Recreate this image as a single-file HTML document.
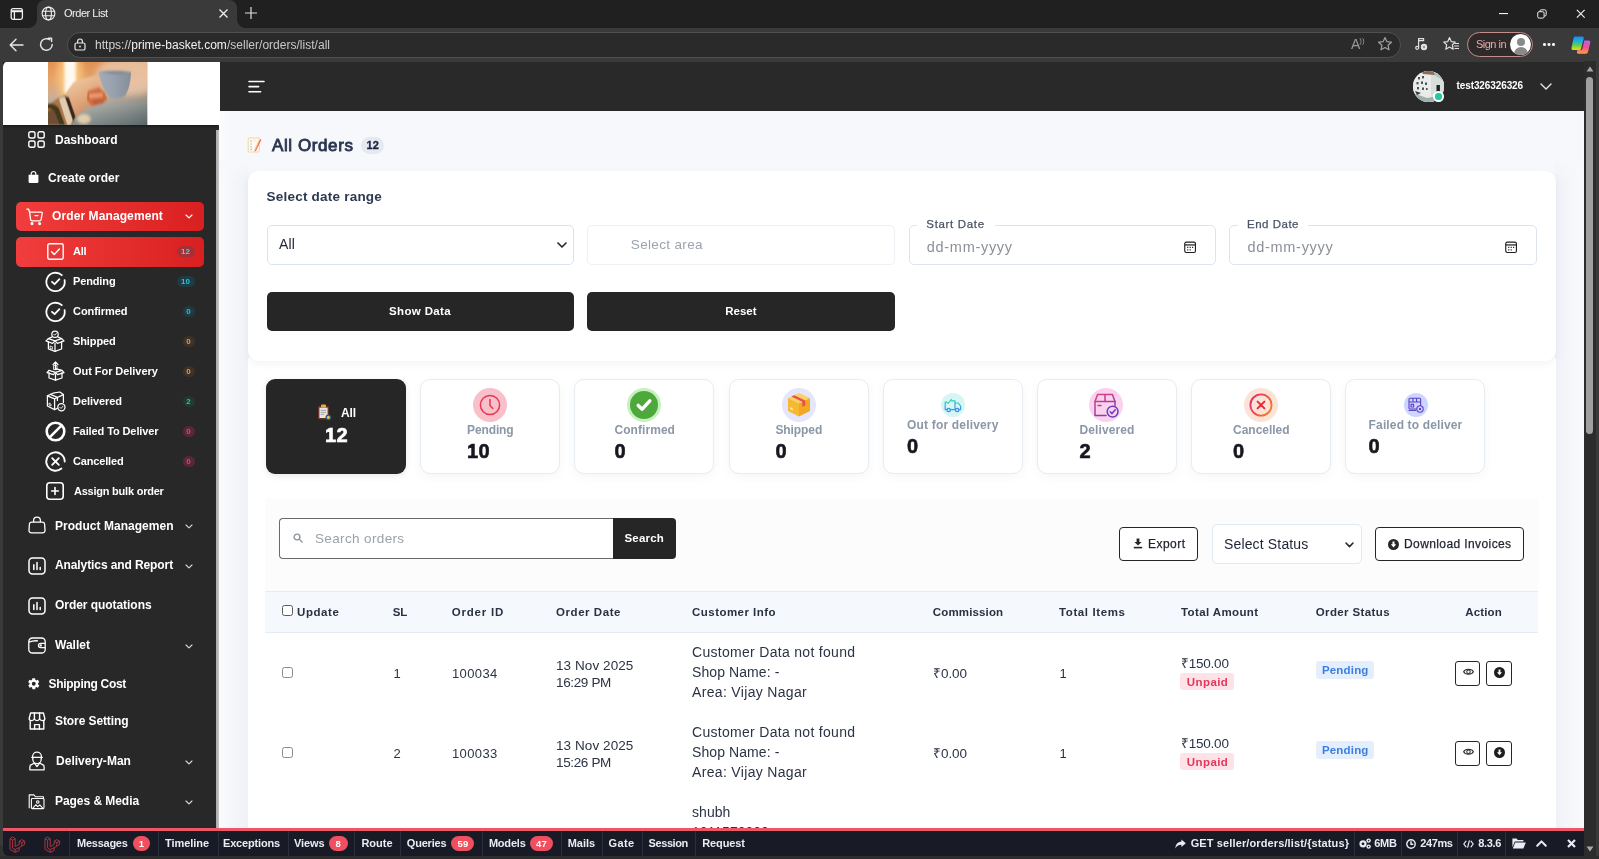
<!DOCTYPE html>
<html lang="en">
<head>
<meta charset="utf-8">
<title>Order List</title>
<style>
*{box-sizing:border-box;margin:0;padding:0}
html,body{width:1599px;height:859px;overflow:hidden;background:#f9fafc;font-family:"Liberation Sans",sans-serif;color:#2b3445}
.abs{position:absolute}
#root{position:relative;width:1599px;height:859px;overflow:hidden;will-change:transform}
svg{display:block;overflow:visible}
.fld{border:1px solid #dde4ee;border-radius:5px;background:#fff}
.btn{background:#262626;border-radius:5px}
.sc{background:#fff;border:1px solid #e7ecf2;border-radius:10px;box-shadow:0 3px 8px rgba(90,100,120,.06)}
.obtn{border:1px solid #262626;border-radius:4px;background:#fff}
.sep{width:1px;height:24.500px;top:831px;background:#2a2f3d}
.pill{top:836px;height:15px;border-radius:8px;background:#ef4f5f;color:#fff;font-size:9.5px;font-weight:bold;text-align:center;line-height:15px}
.nb{height:11px;border-radius:5.500px;font-size:8px;font-weight:bold;text-align:center;line-height:11.500px}
</style>
</head>
<body>
<div id="root">

<!-- CONTENT BG -->
<div class="abs" style="left:219px;top:110px;width:1364px;height:720px;background:#f7f8fb"></div>
<div class="abs" style="left:218.800px;top:110px;width:9px;height:62px;background:linear-gradient(90deg,#fcfcfe,#f7f8fb)"></div>
<div class="abs" style="left:218.800px;top:160px;width:30px;height:670px;background:linear-gradient(90deg,#fbfbfd,#f5f6fa 45%,#eff1f7)"></div>
<div class="abs" style="left:218.800px;top:160px;width:30px;height:24px;background:linear-gradient(#f7f8fb,rgba(247,248,251,0))"></div>
<div class="abs" style="left:1555px;top:160px;width:28.500px;height:670px;background:linear-gradient(90deg,#eff1f7,#f5f6fa 50%,#fafafc)"></div>
<div class="abs" style="left:1555px;top:160px;width:28.500px;height:24px;background:linear-gradient(#f7f8fb,rgba(247,248,251,0))"></div>
<div class="abs" style="left:248px;top:358px;width:1308px;height:483px;background:#fff"></div>
<!-- HEADER -->
<div class="abs" style="left:219px;top:61px;width:1365px;height:49.500px;background:#292929"></div>
<svg class="abs" style="left:248px;top:78px" width="18" height="16" viewBox="0 0 18 16" stroke="#fff" stroke-width="1.600" stroke-linecap="round"><path d="M1 3.500H16M1 8.600H10.600M1 13.700H12.600"/></svg>
<!-- avatar -->
<div class="abs" style="left:1413px;top:70.500px;width:31px;height:31px;border-radius:50%;overflow:hidden;background:#dfe5e2">
<svg width="31" height="31" viewBox="0 0 31 31"><rect width="31" height="31" fill="#e9ecea"/><path d="M18 0H31V31H18Z" fill="#a9c4c4"/><path d="M18 2L31 10V31H18Z" fill="#d8dedc"/><path d="M8 0H20L22 4L10 3Z" fill="#8a6a58"/><g fill="#4a5351"><rect x="5" y="6" width="2" height="2.400"/><rect x="9" y="5" width="2" height="2.400"/><rect x="3.500" y="11" width="2" height="2.400"/><rect x="8" y="10.500" width="2" height="2.400"/><rect x="12" y="11.500" width="2" height="2.400"/><rect x="4" y="16" width="2" height="2.400"/><rect x="9" y="16.500" width="2" height="2.400"/><rect x="13" y="17" width="1.600" height="2"/></g><rect x="23.500" y="14" width="3.400" height="8" fill="#1f2423"/><path d="M0 22L14 27L31 24V31H0Z" fill="#9fb0a8"/><path d="M2 20L8 22L4 24Z" fill="#2f3a36"/></svg></div>
<div class="abs" style="left:1433.300px;top:91.300px;width:10.400px;height:10.400px;border-radius:50%;background:#1fc9a4;border:2px solid #fff"></div>
<div class="abs" style="left:1456.5px;top:81.1px;font-size:10px;line-height:1;font-weight:bold;color:#fff;white-space:pre;letter-spacing:-0.10px;">test326326326</div>
<svg class="abs" style="left:1539.500px;top:82.500px" width="12" height="7" viewBox="0 0 12 7" fill="none" stroke="#e8e8e8" stroke-width="1.400" stroke-linecap="round" stroke-linejoin="round"><path d="M1 1L6 6L11 1"/></svg>
<!-- TITLE -->
<svg class="abs" style="left:246.500px;top:137px" width="15" height="16" viewBox="0 0 15 16"><rect x="1.200" y="1" width="11" height="14" rx="1" fill="#fffaf1" stroke="#f2cf9f" stroke-width="0.900"/><path d="M3.400 4.200H4.800M3.400 7H4.800M3.400 9.800H4.800M3.400 12.400H4.800" stroke="#7fd0b0" stroke-width="1.200"/><path d="M6 3.400H9" stroke="#dfe3ea" stroke-width="0.800"/><path d="M13.200 2L8.200 12.800L7.600 14.800L9.200 13.600L14.400 2.800Z" fill="#f0705a"/><path d="M12.200 3.600L7.400 13.400" stroke="#f6b36a" stroke-width="0.800"/></svg>
<div class="abs" style="left:272.0px;top:136.6px;font-size:17px;line-height:1;font-weight:normal;color:#2b3750;white-space:pre;letter-spacing:0.59px;-webkit-text-stroke:.85px #2b3750;">All Orders</div>
<div class="abs" style="left:361.300px;top:137px;width:23px;height:17.400px;border-radius:8.700px;background:#e5e9f2"></div>
<div class="abs" style="left:366.6px;top:140.2px;font-size:11px;line-height:1;font-weight:bold;color:#1b2540;white-space:pre;-webkit-text-stroke:.3px #1b2540;">12</div>
<!-- FILTER CARD -->
<div class="abs" style="left:248px;top:171px;width:1308px;height:189.500px;background:#fff;border-radius:11px;box-shadow:0 3px 7px rgba(80,95,140,.07)"></div>
<div class="abs" style="left:266.5px;top:190.2px;font-size:13.5px;line-height:1;font-weight:bold;color:#2c3950;white-space:pre;letter-spacing:0.22px;">Select date range</div>
<div class="abs fld" style="left:266.500px;top:225px;width:307px;height:39.500px;border-color:#dbe3ec"></div>
<div class="abs" style="left:279.0px;top:237.0px;font-size:14px;line-height:1;font-weight:normal;color:#1f2433;white-space:pre;letter-spacing:0.15px;">All</div>
<svg class="abs" style="left:557px;top:242px" width="10" height="6" viewBox="0 0 10 6" fill="none" stroke="#2b2b2b" stroke-width="1.700" stroke-linecap="round" stroke-linejoin="round"><path d="M1 1L5 5L9 1"/></svg>
<div class="abs fld" style="left:587px;top:225px;width:308px;height:39.500px;border-color:#edf0f5"></div>
<div class="abs" style="left:630.8px;top:238.4px;font-size:13.5px;line-height:1;font-weight:normal;color:#9ba3ae;white-space:pre;letter-spacing:0.34px;">Select area</div>
<div class="abs fld" style="left:908.500px;top:225px;width:307px;height:39.500px"></div>
<div class="abs" style="left:917px;top:222px;width:78px;height:6px;background:#fff"></div>
<div class="abs" style="left:926.3px;top:218.7px;font-size:11.5px;line-height:1;font-weight:normal;color:#4a5465;white-space:pre;letter-spacing:0.67px;-webkit-text-stroke:.25px #4a5465;">Start Date</div><div class="abs" style="left:926.8px;top:239.5px;font-size:14.5px;line-height:1;font-weight:normal;color:#8b9098;white-space:pre;letter-spacing:0.70px;">dd-mm-yyyy</div>
<div class="abs fld" style="left:1229px;top:225px;width:307.500px;height:39.500px"></div>
<div class="abs" style="left:1238px;top:222px;width:70px;height:6px;background:#fff"></div>
<div class="abs" style="left:1247.0px;top:218.7px;font-size:11.5px;line-height:1;font-weight:normal;color:#4a5465;white-space:pre;letter-spacing:0.51px;-webkit-text-stroke:.25px #4a5465;">End Date</div><div class="abs" style="left:1247.5px;top:239.5px;font-size:14.5px;line-height:1;font-weight:normal;color:#8b9098;white-space:pre;letter-spacing:0.70px;">dd-mm-yyyy</div><svg class="abs" style="left:1184px;top:241px" width="12.200" height="12.200" viewBox="0 0 13 13" fill="none" stroke="#1f1f1f" stroke-width="1.200"><rect x="0.800" y="1.200" width="11.400" height="11" rx="1.600"/><path d="M0.800 4.200H12.200" stroke-width="1.300"/><path d="M3.400 6.800H4.600M6 6.800H7.200M8.600 6.800H9.800M3.400 9.400H4.600M6 9.400H7.200" stroke-width="1.300"/></svg><svg class="abs" style="left:1504.8px;top:241px" width="12.200" height="12.200" viewBox="0 0 13 13" fill="none" stroke="#1f1f1f" stroke-width="1.200"><rect x="0.800" y="1.200" width="11.400" height="11" rx="1.600"/><path d="M0.800 4.200H12.200" stroke-width="1.300"/><path d="M3.400 6.800H4.600M6 6.800H7.200M8.600 6.800H9.800M3.400 9.400H4.600M6 9.400H7.200" stroke-width="1.300"/></svg>
<div class="abs btn" style="left:266.500px;top:291.500px;width:307px;height:39.500px"></div>
<div class="abs" style="left:389.0px;top:305.7px;font-size:11.5px;line-height:1;font-weight:bold;color:#fff;white-space:pre;letter-spacing:0.36px;">Show Data</div>
<div class="abs btn" style="left:587px;top:291.500px;width:308px;height:39.500px"></div>
<div class="abs" style="left:725.2px;top:305.7px;font-size:11.5px;line-height:1;font-weight:bold;color:#fff;white-space:pre;letter-spacing:0.03px;">Reset</div>
<!-- STAT CARDS -->
<div class="abs" style="left:266px;top:379px;width:140px;height:95px;border-radius:9px;background:#262626;box-shadow:0 2px 6px rgba(40,40,60,.10)"></div>
<svg class="abs" style="left:316.500px;top:404px" width="15" height="17" viewBox="0 0 15 17"><rect x="1" y="2" width="11" height="13.400" rx="1.200" fill="#6a3228"/><rect x="2.400" y="3.600" width="8.200" height="10.400" fill="#e9e6e2"/><rect x="4" y="0.600" width="5" height="3" rx="1" fill="#e2b33c"/><path d="M3.600 6.400H9.200M3.600 8.400H9.200M3.600 10.400H7.400" stroke="#9aa0a8" stroke-width="0.900"/><circle cx="11.400" cy="13.400" r="2.900" fill="#24566a"/><circle cx="11.400" cy="13.400" r="1.600" fill="#e6c24a"/></svg>
<div class="abs" style="left:341.0px;top:406.9px;font-size:12px;line-height:1;font-weight:bold;color:#fff;white-space:pre;letter-spacing:-0.11px;">All</div><div class="abs" style="left:325.0px;top:425.2px;font-size:20px;line-height:1;font-weight:bold;color:#fff;white-space:pre;letter-spacing:0.38px;-webkit-text-stroke:.6px #fff;">12</div><div class="abs sc" style="left:420.2px;top:379px;width:140px;height:95px"></div><div class="abs" style="left:467.0px;top:423.7px;font-size:12px;line-height:1;font-weight:bold;color:#8b97a6;white-space:pre;letter-spacing:-0.11px;">Pending</div><div class="abs" style="left:467.0px;top:441.2px;font-size:20px;line-height:1;font-weight:bold;color:#17171f;white-space:pre;letter-spacing:0.38px;-webkit-text-stroke:.6px #17171f;">10</div><div class="abs sc" style="left:574.4px;top:379px;width:140px;height:95px"></div><div class="abs" style="left:614.4px;top:423.7px;font-size:12px;line-height:1;font-weight:bold;color:#8b97a6;white-space:pre;letter-spacing:0.07px;">Confirmed</div><div class="abs" style="left:614.4px;top:441.2px;font-size:20px;line-height:1;font-weight:bold;color:#17171f;white-space:pre;letter-spacing:1.07px;-webkit-text-stroke:.6px #17171f;">0</div><div class="abs sc" style="left:728.6px;top:379px;width:140px;height:95px"></div><div class="abs" style="left:775.4px;top:423.7px;font-size:12px;line-height:1;font-weight:bold;color:#8b97a6;white-space:pre;letter-spacing:-0.08px;">Shipped</div><div class="abs" style="left:775.4px;top:441.2px;font-size:20px;line-height:1;font-weight:bold;color:#17171f;white-space:pre;letter-spacing:1.07px;-webkit-text-stroke:.6px #17171f;">0</div><div class="abs sc" style="left:882.8px;top:379px;width:140px;height:95px"></div><div class="abs" style="left:907.0px;top:418.9px;font-size:12px;line-height:1;font-weight:bold;color:#8b97a6;white-space:pre;letter-spacing:0.18px;">Out for delivery</div><div class="abs" style="left:907.0px;top:436.2px;font-size:20px;line-height:1;font-weight:bold;color:#17171f;white-space:pre;letter-spacing:1.07px;-webkit-text-stroke:.6px #17171f;">0</div><div class="abs sc" style="left:1037px;top:379px;width:140px;height:95px"></div><div class="abs" style="left:1079.6px;top:423.7px;font-size:12px;line-height:1;font-weight:bold;color:#8b97a6;white-space:pre;letter-spacing:0.09px;">Delivered</div><div class="abs" style="left:1079.6px;top:441.2px;font-size:20px;line-height:1;font-weight:bold;color:#17171f;white-space:pre;letter-spacing:1.07px;-webkit-text-stroke:.6px #17171f;">2</div><div class="abs sc" style="left:1191.2px;top:379px;width:140px;height:95px"></div><div class="abs" style="left:1233.0px;top:423.7px;font-size:12px;line-height:1;font-weight:bold;color:#8b97a6;white-space:pre;letter-spacing:-0.01px;">Cancelled</div><div class="abs" style="left:1233.0px;top:441.2px;font-size:20px;line-height:1;font-weight:bold;color:#17171f;white-space:pre;letter-spacing:1.07px;-webkit-text-stroke:.6px #17171f;">0</div><div class="abs sc" style="left:1345.4px;top:379px;width:140px;height:95px"></div><div class="abs" style="left:1368.6px;top:418.9px;font-size:12px;line-height:1;font-weight:bold;color:#8b97a6;white-space:pre;letter-spacing:0.14px;">Failed to deliver</div><div class="abs" style="left:1368.6px;top:436.2px;font-size:20px;line-height:1;font-weight:bold;color:#17171f;white-space:pre;letter-spacing:1.07px;-webkit-text-stroke:.6px #17171f;">0</div>
<div class="abs" style="left:473.400px;top:388px;width:34px;height:34px;border-radius:50%;background:#f9bfca"></div>
<svg class="abs" style="left:479.400px;top:394px" width="22" height="22" viewBox="0 0 22 22" fill="none" stroke="#e23a55" stroke-width="1.500" stroke-linecap="round"><circle cx="11" cy="11" r="9.600"/><path d="M11 5.400V11.400L13.800 14.400"/></svg>
<div class="abs" style="left:627.400px;top:388px;width:34px;height:34px;border-radius:50%;background:#c5f1bc"></div>
<div class="abs" style="left:630.400px;top:391px;width:28px;height:28px;border-radius:50%;background:#4fa83c"></div>
<svg class="abs" style="left:635.400px;top:397px" width="18" height="16" viewBox="0 0 18 16" fill="none" stroke="#fff" stroke-width="3.400" stroke-linecap="round" stroke-linejoin="round"><path d="M3.200 8.400L7.200 12.200L14.800 3.800"/></svg>
<div class="abs" style="left:781.600px;top:388px;width:34px;height:34px;border-radius:50%;background:#e4e7fb"></div>
<svg class="abs" style="left:785.600px;top:391px" width="26" height="28" viewBox="0 0 26 28"><path d="M13 2L24 7L13 12.500L2 7Z" fill="#fcd062"/><path d="M2 7L13 12.500V25.500L2 20Z" fill="#f7b92f"/><path d="M24 7L13 12.500V25.500L24 20Z" fill="#f5a623"/><path d="M8.200 4.200L19.200 9.400V14.400L16.400 15.800V10.800L5.400 5.500Z" fill="#e0524a"/><rect x="4" y="17" width="3" height="2" fill="#fde9b0" transform="skewY(26) translate(0,-3)"/></svg>
<div class="abs" style="left:940.600px;top:393.400px;width:24px;height:24px;border-radius:50%;background:#d6f6f6"></div>
<svg class="abs" style="left:944px;top:398px" width="18" height="15" viewBox="0 0 18 15" fill="none" stroke-width="1.200" stroke-linejoin="round" stroke-linecap="round"><defs><linearGradient id="tr" gradientUnits="userSpaceOnUse" x1="0" y1="0" x2="0" y2="15"><stop offset="0" stop-color="#35d4b0"/><stop offset="1" stop-color="#3a8be8"/></linearGradient></defs><path d="M1.200 4V11.600H2.800M6.600 11.600H11V2.800H7.400" stroke="url(#tr)"/><path d="M11 5H14.200L16.600 8V11.600H15.200" stroke="url(#tr)"/><circle cx="4.700" cy="12" r="1.700" stroke="#3a8be8"/><circle cx="13.200" cy="12" r="1.700" stroke="#3a8be8"/><path d="M2 3.600L4 5.400L7.400 1.400" stroke="#35d4b0"/></svg>
<div class="abs" style="left:1089.400px;top:388px;width:34px;height:34px;border-radius:50%;background:#fbd2ee"></div>
<svg class="abs" style="left:1093.400px;top:392.500px" width="27" height="26" viewBox="0 0 27 26" fill="none" stroke-width="1.500" stroke-linejoin="round" stroke-linecap="round"><defs><linearGradient id="dl" gradientUnits="userSpaceOnUse" x1="2" y1="0" x2="16" y2="26"><stop offset="0" stop-color="#e83e7c"/><stop offset="1" stop-color="#6a3fc0"/></linearGradient></defs><path d="M2 8.400L4.600 1.400H19.400L22 8.400" stroke="url(#dl)"/><path d="M12 1.400V8.400" stroke="url(#dl)"/><path d="M2 8.400H22V13M2 8.400V22.400H13" stroke="url(#dl)"/><path d="M5 12.400H8" stroke="url(#dl)"/><circle cx="19.600" cy="18.600" r="5.400" stroke="#6a3fc0"/><path d="M17.200 18.800L19 20.600L22.200 16.800" stroke="#6a3fc0"/></svg>
<div class="abs" style="left:1244.400px;top:388px;width:34px;height:34px;border-radius:50%;background:#fbe4d5"></div>
<svg class="abs" style="left:1249.400px;top:393px" width="24" height="24" viewBox="0 0 24 24" fill="none" stroke-linecap="round"><defs><linearGradient id="cx" gradientUnits="userSpaceOnUse" x1="0" y1="4" x2="24" y2="20"><stop offset="0" stop-color="#e81f7c"/><stop offset="1" stop-color="#f5841f"/></linearGradient></defs><circle cx="12" cy="12" r="10.600" stroke="url(#cx)" stroke-width="1.800"/><path d="M8.600 8.600L15.400 15.400M15.400 8.600L8.600 15.400" stroke="#e8283c" stroke-width="2"/></svg>
<div class="abs" style="left:1403.600px;top:393.400px;width:24px;height:24px;border-radius:50%;background:#cdd6ff"></div>
<svg class="abs" style="left:1407.600px;top:397.400px" width="16" height="16" viewBox="0 0 16 16" fill="none" stroke="#5b3fc4" stroke-width="1.100" stroke-linejoin="round"><rect x="1" y="1.200" width="11.600" height="10.800" rx="1"/><path d="M1 5H12.600M5 1.200V5M8.600 1.200V5"/><rect x="3" y="7.400" width="2.600" height="2.600"/><path d="M0.600 13.400H8"/><circle cx="12" cy="12" r="3.200" fill="#cdd6ff"/><path d="M10.800 10.800L13.200 13.200M13.200 10.800L10.800 13.200" stroke-width="1"/></svg>

<!-- TABLE CARD -->
<div class="abs" style="left:265px;top:498px;width:1273px;height:94px;background:#fcfcfd"></div>
<div class="abs" style="left:279px;top:518px;width:334.500px;height:41px;border:1px solid #6a6a6a;border-right:0;border-radius:4px 0 0 4px;background:#fff"></div>
<svg class="abs" style="left:293px;top:533px" width="10" height="10" viewBox="0 0 11 11" fill="none" stroke="#8d939c" stroke-width="1.500" stroke-linecap="round"><circle cx="4.400" cy="4.400" r="3.200"/><path d="M7 7L10 10"/></svg>
<div class="abs" style="left:315.0px;top:531.7px;font-size:13.5px;line-height:1;font-weight:normal;color:#9aa1aa;white-space:pre;letter-spacing:0.36px;">Search orders</div>
<div class="abs" style="left:613px;top:518px;width:62.700px;height:41px;background:#262626;border-radius:0 4px 4px 0"></div>
<div class="abs" style="left:624.5px;top:533.2px;font-size:11.5px;line-height:1;font-weight:bold;color:#fff;white-space:pre;letter-spacing:0.19px;">Search</div>
<div class="abs obtn" style="left:1118.800px;top:527px;width:79.700px;height:33.500px"></div>
<svg class="abs" style="left:1133px;top:538px" width="10" height="11" viewBox="0 0 10 11" fill="#262626"><path d="M3.600 0.500H6.400V4H8.600L5 7.600L1.400 4H3.600Z"/><rect x="0.800" y="8.800" width="8.400" height="1.600"/></svg>
<div class="abs" style="left:1148.0px;top:537.9px;font-size:12px;line-height:1;font-weight:normal;color:#1f2430;white-space:pre;letter-spacing:0.47px;-webkit-text-stroke:.25px #1f2430;">Export</div>
<div class="abs fld" style="left:1212px;top:524px;width:149.500px;height:40px;border-color:#e2e8f0"></div>
<div class="abs" style="left:1224.0px;top:536.9px;font-size:14px;line-height:1;font-weight:normal;color:#1f2433;white-space:pre;letter-spacing:0.15px;">Select Status</div>
<svg class="abs" style="left:1345px;top:542px" width="9" height="6" viewBox="0 0 9 6" fill="none" stroke="#2b2b2b" stroke-width="1.600" stroke-linecap="round" stroke-linejoin="round"><path d="M1 1L4.500 4.600L8 1"/></svg>
<div class="abs obtn" style="left:1375px;top:527px;width:149px;height:33.500px"></div>
<svg class="abs" style="left:1387.500px;top:538.500px" width="11" height="11" viewBox="0 0 11 11"><circle cx="5.500" cy="5.500" r="5.500" fill="#262626"/><path d="M4.500 2.400H6.500V5.200H8.200L5.500 8.400L2.800 5.200H4.500Z" fill="#fff"/></svg>
<div class="abs" style="left:1404.0px;top:537.9px;font-size:12px;line-height:1;font-weight:normal;color:#1f2430;white-space:pre;letter-spacing:0.40px;-webkit-text-stroke:.25px #1f2430;">Download Invoices</div>
<!-- thead -->
<div class="abs" style="left:265px;top:591px;width:1273px;height:42px;background:#f5f8fc;border-top:1px solid #e6ebf3;border-bottom:1px solid #e6ebf3"></div>
<div class="abs" style="left:282.2px;top:605.0px;width:11px;height:11px;border:1px solid #5a5a5a;border-radius:2.500px;background:#fff"></div><div class="abs" style="left:297.0px;top:607.1px;font-size:11.5px;line-height:1;font-weight:bold;color:#2a3142;white-space:pre;letter-spacing:0.59px;">Update</div><div class="abs" style="left:392.7px;top:607.1px;font-size:11.5px;line-height:1;font-weight:bold;color:#2a3142;white-space:pre;letter-spacing:-0.20px;">SL</div><div class="abs" style="left:451.7px;top:607.1px;font-size:11.5px;line-height:1;font-weight:bold;color:#2a3142;white-space:pre;letter-spacing:0.79px;">Order ID</div><div class="abs" style="left:556.0px;top:607.1px;font-size:11.5px;line-height:1;font-weight:bold;color:#2a3142;white-space:pre;letter-spacing:0.56px;">Order Date</div><div class="abs" style="left:692.0px;top:607.1px;font-size:11.5px;line-height:1;font-weight:bold;color:#2a3142;white-space:pre;letter-spacing:0.47px;">Customer Info</div><div class="abs" style="left:932.8px;top:607.1px;font-size:11.5px;line-height:1;font-weight:bold;color:#2a3142;white-space:pre;letter-spacing:0.14px;">Commission</div><div class="abs" style="left:1059.0px;top:607.1px;font-size:11.5px;line-height:1;font-weight:bold;color:#2a3142;white-space:pre;letter-spacing:0.61px;">Total Items</div><div class="abs" style="left:1181.0px;top:607.1px;font-size:11.5px;line-height:1;font-weight:bold;color:#2a3142;white-space:pre;letter-spacing:0.39px;">Total Amount</div><div class="abs" style="left:1315.7px;top:607.1px;font-size:11.5px;line-height:1;font-weight:bold;color:#2a3142;white-space:pre;letter-spacing:0.39px;">Order Status</div><div class="abs" style="left:1465.2px;top:607.1px;font-size:11.5px;line-height:1;font-weight:bold;color:#2a3142;white-space:pre;letter-spacing:0.17px;">Action</div><div class="abs" style="left:282.2px;top:667.0px;width:11px;height:11px;border:1px solid #8a8a8a;border-radius:2.500px;background:#fff"></div><div class="abs" style="left:393.5px;top:667.3px;font-size:13px;line-height:1;font-weight:normal;color:#2b3445;white-space:pre;">1</div><div class="abs" style="left:452.0px;top:667.3px;font-size:13px;line-height:1;font-weight:normal;color:#2b3445;white-space:pre;letter-spacing:0.37px;">100034</div><div class="abs" style="left:556.0px;top:658.8px;font-size:13.5px;line-height:1;font-weight:normal;color:#2b3445;white-space:pre;letter-spacing:0.08px;">13 Nov 2025</div><div class="abs" style="left:556.0px;top:675.7px;font-size:13.5px;line-height:1;font-weight:normal;color:#2b3445;white-space:pre;letter-spacing:-0.35px;">16:29 PM</div><div class="abs" style="left:692.0px;top:645.3px;font-size:14px;line-height:1;font-weight:normal;color:#2b3445;white-space:pre;letter-spacing:0.30px;">Customer Data not found</div><div class="abs" style="left:692.0px;top:665.1px;font-size:14px;line-height:1;font-weight:normal;color:#2b3445;white-space:pre;letter-spacing:0.09px;">Shop Name: -</div><div class="abs" style="left:692.0px;top:685.3px;font-size:14px;line-height:1;font-weight:normal;color:#2b3445;white-space:pre;letter-spacing:0.33px;">Area: Vijay Nagar</div><div class="abs" style="left:933.0px;top:667.1px;font-size:13.5px;line-height:1;font-weight:normal;color:#2b3445;white-space:pre;letter-spacing:-0.06px;">₹0.00</div><div class="abs" style="left:1059.6px;top:667.3px;font-size:13px;line-height:1;font-weight:normal;color:#2b3445;white-space:pre;">1</div><div class="abs" style="left:1181.0px;top:656.9px;font-size:13.5px;line-height:1;font-weight:normal;color:#2b3445;white-space:pre;letter-spacing:-0.23px;">₹150.00</div><div class="abs" style="left:1180.200px;top:672.7px;width:53.400px;height:17.500px;border-radius:3px;background:#fde3e8"></div><div class="abs" style="left:1186.8px;top:676.7px;font-size:11.5px;line-height:1;font-weight:bold;color:#e2385c;white-space:pre;letter-spacing:0.42px;">Unpaid</div><div class="abs" style="left:1315.700px;top:660.5px;width:58.600px;height:18.400px;border-radius:3px;background:#e4eefc"></div><div class="abs" style="left:1321.9px;top:664.8px;font-size:11.5px;line-height:1;font-weight:bold;color:#3d7fe0;white-space:pre;letter-spacing:0.19px;">Pending</div><div class="abs obtn" style="left:1455px;top:661px;width:25px;height:24.500px;border-radius:3px"></div><svg class="abs" style="left:1462.500px;top:668.2px" width="11" height="7.600" viewBox="0 0 12 8" fill="none" stroke="#262626" stroke-width="1.100"><path d="M0.700 4C2.400 0.400 9.600 0.400 11.300 4C9.600 7.600 2.400 7.600 0.700 4Z"/><circle cx="6" cy="4" r="1.900"/></svg><div class="abs obtn" style="left:1486px;top:661px;width:25.500px;height:24.500px;border-radius:3px"></div><svg class="abs" style="left:1493.500px;top:667px" width="11" height="11" viewBox="0 0 11 11"><circle cx="5.500" cy="5.500" r="5.500" fill="#1f1f1f"/><path d="M4.600 2.400H6.400V5.200H8L5.500 8.200L3 5.200H4.600Z" fill="#fff"/></svg><div class="abs" style="left:282.2px;top:747.0px;width:11px;height:11px;border:1px solid #8a8a8a;border-radius:2.500px;background:#fff"></div><div class="abs" style="left:393.5px;top:747.3px;font-size:13px;line-height:1;font-weight:normal;color:#2b3445;white-space:pre;">2</div><div class="abs" style="left:452.0px;top:747.3px;font-size:13px;line-height:1;font-weight:normal;color:#2b3445;white-space:pre;letter-spacing:0.37px;">100033</div><div class="abs" style="left:556.0px;top:738.8px;font-size:13.5px;line-height:1;font-weight:normal;color:#2b3445;white-space:pre;letter-spacing:0.08px;">13 Nov 2025</div><div class="abs" style="left:556.0px;top:755.7px;font-size:13.5px;line-height:1;font-weight:normal;color:#2b3445;white-space:pre;letter-spacing:-0.35px;">15:26 PM</div><div class="abs" style="left:692.0px;top:725.3px;font-size:14px;line-height:1;font-weight:normal;color:#2b3445;white-space:pre;letter-spacing:0.30px;">Customer Data not found</div><div class="abs" style="left:692.0px;top:745.1px;font-size:14px;line-height:1;font-weight:normal;color:#2b3445;white-space:pre;letter-spacing:0.09px;">Shop Name: -</div><div class="abs" style="left:692.0px;top:765.3px;font-size:14px;line-height:1;font-weight:normal;color:#2b3445;white-space:pre;letter-spacing:0.33px;">Area: Vijay Nagar</div><div class="abs" style="left:933.0px;top:747.1px;font-size:13.5px;line-height:1;font-weight:normal;color:#2b3445;white-space:pre;letter-spacing:-0.06px;">₹0.00</div><div class="abs" style="left:1059.6px;top:747.3px;font-size:13px;line-height:1;font-weight:normal;color:#2b3445;white-space:pre;">1</div><div class="abs" style="left:1181.0px;top:736.9px;font-size:13.5px;line-height:1;font-weight:normal;color:#2b3445;white-space:pre;letter-spacing:-0.23px;">₹150.00</div><div class="abs" style="left:1180.200px;top:752.7px;width:53.400px;height:17.500px;border-radius:3px;background:#fde3e8"></div><div class="abs" style="left:1186.8px;top:756.7px;font-size:11.5px;line-height:1;font-weight:bold;color:#e2385c;white-space:pre;letter-spacing:0.42px;">Unpaid</div><div class="abs" style="left:1315.700px;top:740.5px;width:58.600px;height:18.400px;border-radius:3px;background:#e4eefc"></div><div class="abs" style="left:1321.9px;top:744.8px;font-size:11.5px;line-height:1;font-weight:bold;color:#3d7fe0;white-space:pre;letter-spacing:0.19px;">Pending</div><div class="abs obtn" style="left:1455px;top:741px;width:25px;height:24.500px;border-radius:3px"></div><svg class="abs" style="left:1462.500px;top:748.2px" width="11" height="7.600" viewBox="0 0 12 8" fill="none" stroke="#262626" stroke-width="1.100"><path d="M0.700 4C2.400 0.400 9.600 0.400 11.300 4C9.600 7.600 2.400 7.600 0.700 4Z"/><circle cx="6" cy="4" r="1.900"/></svg><div class="abs obtn" style="left:1486px;top:741px;width:25.500px;height:24.500px;border-radius:3px"></div><svg class="abs" style="left:1493.500px;top:747px" width="11" height="11" viewBox="0 0 11 11"><circle cx="5.500" cy="5.500" r="5.500" fill="#1f1f1f"/><path d="M4.600 2.400H6.400V5.200H8L5.500 8.200L3 5.200H4.600Z" fill="#fff"/></svg><div class="abs" style="left:692.0px;top:804.9px;font-size:14px;line-height:1;font-weight:normal;color:#2b3445;white-space:pre;letter-spacing:0.05px;">shubh</div><div class="abs" style="left:692.0px;top:825.1px;font-size:14px;line-height:1;font-weight:normal;color:#2b3445;white-space:pre;">1011570000</div>
<!-- SIDEBAR -->
<div class="abs" style="left:0;top:61px;width:3.200px;height:798px;background:#3a3a3a"></div>
<div class="abs" style="left:3px;top:61px;width:214px;height:769px;background:#282828"></div>
<div class="abs" style="left:216.300px;top:125px;width:2.500px;height:705px;background:linear-gradient(90deg,#a9a9a9,#c4c4c4)"></div>
<div class="abs" style="left:216px;top:125px;width:2.800px;height:4.500px;background:#282828"></div>
<div class="abs" style="left:3.200px;top:61.200px;width:217px;height:63.800px;background:#fff;border-radius:6px 0 0 0;overflow:hidden">
<svg class="abs" style="left:45px;top:0;overflow:hidden" width="99.500" height="64" preserveAspectRatio="none" viewBox="0 0 100 64"><defs>
<linearGradient id="sky" x1="0" y1="0" x2="0" y2="1"><stop offset="0" stop-color="#e2904f"/><stop offset=".3" stop-color="#e9a66c"/><stop offset=".52" stop-color="#d9b090"/><stop offset=".7" stop-color="#b6b5ac"/><stop offset="1" stop-color="#929a98"/></linearGradient>
<linearGradient id="rshade" x1="0.25" y1="0" x2="1" y2="1"><stop offset="0" stop-color="#6a7476" stop-opacity="0"/><stop offset=".5" stop-color="#7b8586" stop-opacity=".12"/><stop offset="1" stop-color="#566263" stop-opacity=".95"/></linearGradient>
<linearGradient id="cup" x1="0" y1="0" x2="1" y2="0"><stop offset="0" stop-color="#a4acb8"/><stop offset=".4" stop-color="#9aa3af"/><stop offset="1" stop-color="#858f9b"/></linearGradient>
<linearGradient id="palm" x1="0.2" y1="0" x2="0.8" y2="1"><stop offset="0" stop-color="#f3d2ac"/><stop offset=".5" stop-color="#e0a67c"/><stop offset="1" stop-color="#b8774e"/></linearGradient>
<filter id="b1" x="-20%" y="-20%" width="140%" height="140%"><feGaussianBlur stdDeviation="0.8"/></filter>
<filter id="b3" x="-50%" y="-50%" width="200%" height="200%"><feGaussianBlur stdDeviation="3"/></filter>
<filter id="b2" x="-50%" y="-50%" width="200%" height="200%"><feGaussianBlur stdDeviation="1.400"/></filter>
<clipPath id="lc"><rect width="100" height="64"/></clipPath>
</defs>
<g clip-path="url(#lc)">
<rect width="100" height="64" fill="url(#sky)"/>
<rect width="100" height="64" fill="url(#rshade)"/>
<ellipse cx="82" cy="14" rx="34" ry="20" fill="#eccbb0" opacity=".75" filter="url(#b3)"/>
<ellipse cx="22" cy="14" rx="13" ry="28" fill="#ffcb80" opacity=".75" filter="url(#b3)"/>
<rect x="16.500" y="-6" width="11.500" height="41" rx="5.500" fill="#fffaf0" filter="url(#b2)"/>
<ellipse cx="36" cy="58" rx="7" ry="5" fill="#f6dcb0" opacity=".8" filter="url(#b2)"/>
<g filter="url(#b1)">
<path d="M17 33L25.500 21.500L35.600 17.600L46.500 14.800L50.500 15.500L51.500 26L57 32L59.500 38.500L55 42L46 45L39 47L28 55.500L22 64H6Z" fill="url(#palm)"/>
<g filter="url(#b1)"><path d="M40 30L51 26.500L57 32L59.500 38.500L55 42L44 45L39 39Z" fill="#cf6b41"/>
<path d="M41 33.400L54 32.400L56 35L42 37Z" fill="#f3a778"/>
<path d="M45 40L57 38.500L55 42L46 44Z" fill="#b9583a"/></g>
<path d="M0 44L9 38L17 34L22 40L27 58L24 64H0Z" fill="#a87448"/><path d="M0 50L8 47L14 64H0Z" fill="#6e4e30"/>
<path d="M11 38Q15 35 18 36.500L25.500 58L22.500 64H19.500Z" fill="#e2ccb0"/>
<path d="M17 35.800Q19.500 34.800 21 36.400L27.600 55.500L25.200 60Z" fill="#38281a"/>
<path d="M0 43Q6 41.500 10.500 46.500L17 64H12L6.500 50Q4 47 0 47.500Z" fill="#43381c"/>
<path d="M50.500 10.500Q67 8.400 83.500 11Q83 26 77.500 35Q70 39.500 62 36.500Q53 26 50.500 10.500Z" fill="url(#cup)"/>
<path d="M52 11Q67 9.600 82.500 11.500Q67 14 52 11Z" fill="#78838f"/>
</g></g>
</svg></div>
<div class="abs" style="left:3px;top:125px;width:214px;height:3px;background:linear-gradient(#1b1b1b,#272727)"></div>
<!-- nav main -->
<svg class="abs" style="left:28px;top:131px" width="17" height="17" viewBox="0 0 17 17" fill="none" stroke="#fff" stroke-width="1.4"><rect x="0.8" y="0.8" width="6.2" height="6.2" rx="1.8"/><rect x="10" y="0.8" width="6.2" height="6.2" rx="1.8"/><rect x="0.8" y="10" width="6.2" height="6.2" rx="1.8"/><rect x="10" y="10" width="6.2" height="6.2" rx="1.8"/></svg>
<div class="abs" style="left:55.0px;top:134.1px;font-size:12px;line-height:1;font-weight:bold;color:#fff;white-space:pre;letter-spacing:-0.02px;">Dashboard</div>
<svg class="abs" style="left:27.500px;top:171px" width="11" height="12.500" viewBox="0 0 12 14"><path d="M0.5 4.2H11.5V12Q11.5 13.5 10 13.5H2Q0.5 13.5 0.5 12Z" fill="#fff"/><path d="M3.4 5.5V3.2A2.6 2.6 0 0 1 8.6 3.2V5.5" fill="none" stroke="#fff" stroke-width="1.3"/></svg>
<div class="abs" style="left:48.0px;top:172.1px;font-size:12px;line-height:1;font-weight:bold;color:#fff;white-space:pre;letter-spacing:0.01px;">Create order</div>
<div class="abs" style="left:16px;top:201.5px;width:188px;height:29.5px;border-radius:5px;background:linear-gradient(90deg,#f13d3d,#d92020)"></div>
<svg class="abs" style="left:25.5px;top:207.5px" width="18" height="18" viewBox="0 0 18 18" fill="none" stroke="#fff" stroke-width="1.3" stroke-linecap="round" stroke-linejoin="round"><path d="M0.8 1.2H2.6L3.6 4.2M3.6 4.2L4.6 11.6Q4.8 12.8 6 12.8H13.6Q14.8 12.8 15.1 11.6L16.2 5.4Q16.4 4.2 15.2 4.2Z"/><path d="M9 7.6H12"/><circle cx="6" cy="15.6" r="0.9" fill="#fff"/><circle cx="13.6" cy="15.6" r="0.9" fill="#fff"/></svg>
<div class="abs" style="left:52.0px;top:210.1px;font-size:12px;line-height:1;font-weight:bold;color:#fff;white-space:pre;letter-spacing:0.10px;">Order Management</div><svg class="abs" style="left:185px;top:214.0px" width="8" height="5" viewBox="0 0 8 5" fill="none" stroke="#fff" stroke-width="1.150" stroke-linecap="round" stroke-linejoin="round"><path d="M1 1L4 3.900L7 1"/></svg>
<div class="abs" style="left:16px;top:237px;width:188px;height:29.5px;border-radius:5px;background:linear-gradient(90deg,#f13d3d,#d92020)"></div>
<svg class="abs" style="left:46.5px;top:243px" width="17" height="17" viewBox="0 0 17 17" fill="none" stroke="#fff" stroke-width="1.4" stroke-linecap="round" stroke-linejoin="round"><rect x="0.8" y="0.8" width="15.4" height="15.4" rx="1.6"/><path d="M4.6 8.8L7.3 11.4L12.4 6"/></svg>
<div class="abs" style="left:73.0px;top:245.9px;font-size:11px;line-height:1;font-weight:bold;color:#fff;white-space:pre;letter-spacing:-0.19px;">All</div><div class="abs nb" style="left:176.5px;top:245.5px;width:18px;color:#4fd0e4;background:rgba(120,60,70,.55)">12</div><div class="abs" style="left:73.0px;top:275.9px;font-size:11px;line-height:1;font-weight:bold;color:#fff;white-space:pre;letter-spacing:-0.13px;">Pending</div><div class="abs nb" style="left:176.5px;top:275.5px;width:18px;color:#27c4dc;background:#1d3b42">10</div><div class="abs" style="left:73.0px;top:305.9px;font-size:11px;line-height:1;font-weight:bold;color:#fff;white-space:pre;letter-spacing:-0.06px;">Confirmed</div><div class="abs nb" style="left:182.5px;top:305.5px;width:12px;color:#27c4dc;background:#1d3b42">0</div><div class="abs" style="left:73.0px;top:335.9px;font-size:11px;line-height:1;font-weight:bold;color:#fff;white-space:pre;letter-spacing:-0.11px;">Shipped</div><div class="abs nb" style="left:182.5px;top:335.5px;width:12px;color:#f39a2c;background:#3d3128">0</div><div class="abs" style="left:73.0px;top:365.9px;font-size:11px;line-height:1;font-weight:bold;color:#fff;white-space:pre;letter-spacing:-0.05px;">Out For Delivery</div><div class="abs nb" style="left:182.5px;top:365.5px;width:12px;color:#f39a2c;background:#3d3128">0</div><div class="abs" style="left:73.0px;top:395.9px;font-size:11px;line-height:1;font-weight:bold;color:#fff;white-space:pre;letter-spacing:-0.06px;">Delivered</div><div class="abs nb" style="left:182.5px;top:395.5px;width:12px;color:#2fc98a;background:#1f3a31">2</div><div class="abs" style="left:73.0px;top:425.9px;font-size:11px;line-height:1;font-weight:bold;color:#fff;white-space:pre;letter-spacing:-0.10px;">Failed To Deliver</div><div class="abs nb" style="left:182.5px;top:425.5px;width:12px;color:#ea3d7a;background:#5a2639">0</div><div class="abs" style="left:73.0px;top:455.9px;font-size:11px;line-height:1;font-weight:bold;color:#fff;white-space:pre;letter-spacing:-0.16px;">Cancelled</div><div class="abs nb" style="left:182.5px;top:455.5px;width:12px;color:#ea3d7a;background:#5a2639">0</div><div class="abs" style="left:74.0px;top:485.9px;font-size:11px;line-height:1;font-weight:bold;color:#fff;white-space:pre;letter-spacing:-0.23px;">Assign bulk order</div><svg class="abs" style="left:44.5px;top:270.5px" width="21" height="21" viewBox="0 0 21 21" fill="none" stroke="#fff" stroke-width="1.800" stroke-linecap="round" stroke-linejoin="round"><path d="M16.8 4.2A9.2 9.2 0 1 0 19.6 9.2"/><path d="M7 10.8L9.6 13.2L14.4 8.2"/></svg><svg class="abs" style="left:44.5px;top:300.5px" width="21" height="21" viewBox="0 0 21 21" fill="none" stroke="#fff" stroke-width="1.800" stroke-linecap="round" stroke-linejoin="round"><path d="M16.8 4.2A9.2 9.2 0 1 0 19.6 9.2"/><path d="M7 10.8L9.6 13.2L14.4 8.2"/></svg><svg class="abs" style="left:45px;top:330px" width="20" height="22" viewBox="0 0 20 22" fill="none" stroke="#fff" stroke-width="1.250" stroke-linejoin="round" stroke-linecap="round"><circle cx="10" cy="4.2" r="3.2"/><path d="M8.7 4.2L9.7 5.2L11.4 3.4" stroke-width="0.9"/><path d="M3.4 11.6V19L10 21.4L16.6 19V11.6"/><path d="M10 13.4V21.4"/><path d="M3.4 8.6L10 10.8L16.6 8.6"/><path d="M3.4 8.6L1 11L7.6 13.4L10 10.8L12.4 13.4L19 11L16.6 8.6"/><path d="M3.4 8.6L6.8 7.2M16.6 8.6L13.2 7.2"/><path d="M5 16.4V18.4L7.4 19.2V17.2Z" stroke-width="0.8"/></svg><svg class="abs" style="left:46px;top:361px" width="19" height="20" viewBox="0 0 19 20" fill="none" stroke="#fff" stroke-width="1.250" stroke-linejoin="round" stroke-linecap="round"><path d="M9.5 8.4V1.4M7 3.6L9.5 1L12 3.6"/><path d="M8 4.4H11V8.6H8Z" stroke-width="0.9"/><path d="M3 11.6V17L9.5 19.2L16 17V11.6"/><path d="M9.5 12.8V19.2"/><path d="M3 9.4L9.5 11.4L16 9.4L9.5 7.6"/><path d="M3 9.4L1 11.6L7.4 13.6L9.5 11.4L11.6 13.6L18 11.6L16 9.4"/></svg><svg class="abs" style="left:45.5px;top:390.5px" width="20" height="21" viewBox="0 0 20 21" fill="none" stroke="#fff" stroke-width="1.250" stroke-linejoin="round" stroke-linecap="round"><path d="M1.4 4.8L7 2.2L13.8 1L17.4 3.6V11.4"/><path d="M1.4 4.8V15L8.6 18.6V7.8Z"/><path d="M8.6 7.8L17.4 3.6"/><path d="M4.4 3.4L11.4 6.4V9.4"/><path d="M8.6 18.6L11.6 17.2"/><path d="M3 12.4V14L5 15V13.4Z" stroke-width="0.8"/><circle cx="15.4" cy="16.2" r="3.6"/><path d="M13.8 16.3L15 17.5L17 15.2" stroke-width="0.9"/></svg><svg class="abs" style="left:44.5px;top:420.5px" width="21" height="21" viewBox="0 0 21 21" fill="none" stroke="#fff" stroke-width="2.600"><circle cx="10.500" cy="10.500" r="8.800"/><path d="M4.4 16.6L16.6 4.4"/></svg><svg class="abs" style="left:44.5px;top:450.5px" width="21" height="21" viewBox="0 0 21 21" fill="none" stroke="#fff" stroke-width="1.900" stroke-linecap="round"><path d="M16.400 17.600A9.200 9.200 0 1 1 19.700 10.500"/><path d="M7.2 7.2L13.8 13.8M13.8 7.2L7.2 13.8"/></svg><svg class="abs" style="left:46px;top:482px" width="18" height="18" viewBox="0 0 18 18" fill="none" stroke="#fff" stroke-width="1.600" stroke-linecap="round"><rect x="0.800" y="0.800" width="16.400" height="16.400" rx="3"/><path d="M9 5.6V12.4M5.6 9H12.4"/></svg><svg class="abs" style="left:27.5px;top:516px" width="18" height="18" viewBox="0 0 18 18" fill="none" stroke="#fff" stroke-width="1.3" stroke-linejoin="round"><path d="M3.6 6.2H14.4Q16.4 6.2 16.6 8.2L17 14Q17.2 16.8 14.4 16.8H3.6Q0.8 16.8 1 14L1.4 8.2Q1.6 6.2 3.6 6.2Z"/><path d="M5.6 6.2V4.6A3.4 3.4 0 0 1 12.4 4.6V6.2"/></svg><div class="abs" style="left:55.0px;top:519.6px;font-size:12px;line-height:1;font-weight:bold;color:#fff;white-space:pre;letter-spacing:0.03px;">Product Managemen</div><svg class="abs" style="left:185px;top:524.0px" width="8" height="5" viewBox="0 0 8 5" fill="none" stroke="#cfcfcf" stroke-width="1.150" stroke-linecap="round" stroke-linejoin="round"><path d="M1 1L4 3.900L7 1"/></svg><svg class="abs" style="left:27.5px;top:556.5px" width="18" height="18" viewBox="0 0 18 18" fill="none" stroke="#fff" stroke-width="1.500" stroke-linecap="round"><rect x="1" y="1" width="16" height="16" rx="3.500"/><path d="M5.800 7.800V12.600M9 5.400V12.600M12.200 10.600V12.600"/></svg><div class="abs" style="left:55.0px;top:559.4px;font-size:12px;line-height:1;font-weight:bold;color:#fff;white-space:pre;letter-spacing:-0.10px;">Analytics and Report</div><svg class="abs" style="left:185px;top:564.0px" width="8" height="5" viewBox="0 0 8 5" fill="none" stroke="#d8d8d8" stroke-width="1.150" stroke-linecap="round" stroke-linejoin="round"><path d="M1 1L4 3.900L7 1"/></svg><svg class="abs" style="left:27.5px;top:596.5px" width="18" height="18" viewBox="0 0 18 18" fill="none" stroke="#fff" stroke-width="1.500" stroke-linecap="round"><rect x="1" y="1" width="16" height="16" rx="3.500"/><path d="M5.800 7.800V12.600M9 5.400V12.600M12.200 10.600V12.600"/></svg><div class="abs" style="left:55.0px;top:599.4px;font-size:12px;line-height:1;font-weight:bold;color:#fff;white-space:pre;letter-spacing:-0.05px;">Order quotations</div><svg class="abs" style="left:27.5px;top:636.5px" width="18" height="17" viewBox="0 0 18 17" fill="none" stroke="#fff" stroke-width="1.3" stroke-linejoin="round"><rect x="0.8" y="1" width="16.4" height="15" rx="3.6"/><path d="M0.8 5.2Q5 3.4 10 3.8"/><path d="M17.2 6.4H12.6A2.1 2.1 0 0 0 12.6 10.6H17.2"/><circle cx="12.8" cy="8.5" r="0.5" fill="#fff"/></svg><div class="abs" style="left:55.0px;top:639.4px;font-size:12px;line-height:1;font-weight:bold;color:#fff;white-space:pre;letter-spacing:0.02px;">Wallet</div><svg class="abs" style="left:185px;top:644.0px" width="8" height="5" viewBox="0 0 8 5" fill="none" stroke="#d8d8d8" stroke-width="1.150" stroke-linecap="round" stroke-linejoin="round"><path d="M1 1L4 3.900L7 1"/></svg><svg class="abs" style="left:26.500px;top:677px" width="13.500" height="13.500" viewBox="0 0 24 24" fill="#fff"><path d="M19.4 13a7.7 7.7 0 0 0 .1-1 7.7 7.7 0 0 0-.1-1l2.1-1.6a.5.5 0 0 0 .1-.7l-2-3.4a.5.5 0 0 0-.6-.2l-2.5 1a7.300 7.300 0 0 0-1.700-1l-.4-2.600a.5.5 0 0 0-.5-.4h-4a.5.5 0 0 0-.5.400l-.400 2.600a7.300 7.300 0 0 0-1.700 1l-2.500-1a.5.5 0 0 0-.6.200l-2 3.400a.5.5 0 0 0 .1.700L4.600 11a7.700 7.700 0 0 0-.1 1 7.700 7.700 0 0 0 .1 1l-2.100 1.600a.5.500 0 0 0-.1.700l2 3.400a.5.500 0 0 0 .6.200l2.500-1a7.300 7.300 0 0 0 1.700 1l.4 2.600a.5.500 0 0 0 .5.400h4a.5.500 0 0 0 .5-.4l.4-2.600a7.300 7.300 0 0 0 1.700-1l2.500 1a.5.500 0 0 0 .6-.2l2-3.400a.5.500 0 0 0-.1-.7zM12 15.500A3.500 3.500 0 1 1 12 8.500a3.500 3.500 0 0 1 0 7z"/></svg><div class="abs" style="left:48.5px;top:677.9px;font-size:12px;line-height:1;font-weight:bold;color:#fff;white-space:pre;letter-spacing:-0.29px;">Shipping Cost</div><svg class="abs" style="left:27.500px;top:712px" width="18" height="18" viewBox="0 0 18 18" fill="none" stroke="#fff" stroke-width="1.400" stroke-linejoin="round" stroke-linecap="round"><path d="M2.600 1H15.400L16.800 6.400Q16.800 8.600 14.400 8.600Q12.200 8.600 11.600 6.600Q11 8.600 9 8.600Q7 8.600 6.400 6.600Q5.800 8.600 3.600 8.600Q1.200 8.600 1.200 6.400Z"/><path d="M6.400 1V6.600M11.600 1V6.600"/><path d="M2.200 8.600V17H15.800V8.600"/><path d="M6.600 17V12.600H11.400V17"/></svg><div class="abs" style="left:55.0px;top:715.1px;font-size:12px;line-height:1;font-weight:bold;color:#fff;white-space:pre;letter-spacing:-0.09px;">Store Setting</div><svg class="abs" style="left:28.500px;top:752px" width="16" height="19" viewBox="0 0 16 19" fill="none" stroke="#fff" stroke-width="1.300" stroke-linejoin="round" stroke-linecap="round"><path d="M3.600 5.200V4.600A4.400 4.400 0 0 1 12.400 4.600V5.200"/><path d="M2.800 5.400H13.200"/><path d="M3.800 5.600V7.400A4.200 4.200 0 0 0 12.200 7.400V5.600"/><path d="M5.400 11L1.200 13.400Q0.600 15.800 1 17.800H15Q15.400 15.800 14.800 13.400L10.600 11"/><path d="M5.400 11.200L8 14.600L10.600 11.200"/></svg><div class="abs" style="left:56.0px;top:755.4px;font-size:12px;line-height:1;font-weight:bold;color:#fff;white-space:pre;letter-spacing:0.02px;">Delivery-Man</div><svg class="abs" style="left:185px;top:760.0px" width="8" height="5" viewBox="0 0 8 5" fill="none" stroke="#d8d8d8" stroke-width="1.150" stroke-linecap="round" stroke-linejoin="round"><path d="M1 1L4 3.900L7 1"/></svg><svg class="abs" style="left:27.500px;top:793.500px" width="17" height="15.500" viewBox="0 0 18 17" fill="none" stroke="#fff" stroke-width="1.2" stroke-linejoin="round"><path d="M1 15.600V1H6.200L7.800 3H16.600V5"/><rect x="3.400" y="5" width="13.800" height="11" rx="1"/><circle cx="10.400" cy="8.800" r="1.400"/><path d="M5 15.400L8.200 11.800L10.400 13.800L12.600 12L15.800 15.400"/></svg><div class="abs" style="left:55.0px;top:795.4px;font-size:12px;line-height:1;font-weight:bold;color:#fff;white-space:pre;letter-spacing:-0.05px;">Pages &amp; Media</div><svg class="abs" style="left:185px;top:800.0px" width="8" height="5" viewBox="0 0 8 5" fill="none" stroke="#d8d8d8" stroke-width="1.150" stroke-linecap="round" stroke-linejoin="round"><path d="M1 1L4 3.900L7 1"/></svg>
<!-- BROWSER CHROME -->
<div class="abs" style="left:0;top:0;width:1599px;height:28px;background:#202020"></div>
<div class="abs" style="left:0;top:28px;width:1599px;height:33.5px;background:#3a3a3a"></div>
<div class="abs" style="left:37px;top:0;width:200px;height:29px;background:#3a3a3a;border-radius:8px 8px 0 0"></div>
<div class="abs" style="left:29px;top:20px;width:8px;height:8px;background:radial-gradient(circle at 0 0,#202020 7.5px,#3a3a3a 8px)"></div>
<div class="abs" style="left:237px;top:20px;width:8px;height:8px;background:radial-gradient(circle at 100% 0,#202020 7.5px,#3a3a3a 8px)"></div>
<div class="abs" style="left:67px;top:31.5px;width:1334px;height:26.5px;border-radius:14px;background:#2a2a2a;border:1px solid #505050"></div>
<svg class="abs" style="left:10px;top:7px" width="14" height="14" viewBox="0 0 14 14" fill="none" stroke="#f0f0f0" stroke-width="1.3"><rect x="1.2" y="1.6" width="11.2" height="10.8" rx="1.8"/><path d="M1.2 4.2H12.4" stroke-width="2"/><path d="M4.4 4.6V12.4"/></svg>
<svg class="abs" style="left:41px;top:6px" width="15" height="15" viewBox="0 0 15 15" fill="none" stroke="#f0f0f0" stroke-width="1.1"><circle cx="7.5" cy="7.5" r="6.4"/><ellipse cx="7.5" cy="7.5" rx="2.9" ry="6.4"/><path d="M1.6 5.2H13.4M1.6 9.8H13.4"/></svg>
<div class="abs" style="left:64.0px;top:8.1px;font-size:11px;line-height:1;font-weight:normal;color:#f2f2f2;white-space:pre;letter-spacing:-0.48px;">Order List</div>
<svg class="abs" style="left:218px;top:8px" width="11" height="11" viewBox="0 0 11 11" stroke="#f0f0f0" stroke-width="1.3" fill="none"><path d="M1.5 1.5L9.5 9.5M9.5 1.5L1.5 9.5"/></svg>
<svg class="abs" style="left:244px;top:6px" width="14" height="14" viewBox="0 0 14 14" stroke="#e0e0e0" stroke-width="1.2" fill="none"><path d="M7 1V13M1 7H13"/></svg>
<svg class="abs" style="left:1498.800px;top:12.800px" width="9" height="2" viewBox="0 0 9 2"><rect width="9" height="1.100" fill="#f0f0f0"/></svg>
<svg class="abs" style="left:1536.500px;top:9px" width="10" height="10" viewBox="0 0 11 11" fill="none" stroke="#f0f0f0" stroke-width="1.1"><rect x="0.8" y="3" width="7" height="7" rx="1.5"/><path d="M3.2 3V2.4Q3.2 0.9 4.7 0.9H8.4Q10.1 0.9 10.1 2.6V6.2Q10.1 7.8 8.5 7.8H7.9"/></svg>
<svg class="abs" style="left:1575.500px;top:9px" width="9.500" height="9.500" viewBox="0 0 11 11" stroke="#f0f0f0" stroke-width="1.3" fill="none"><path d="M1 1L10 10M10 1L1 10"/></svg>
<svg class="abs" style="left:9px;top:37.5px" width="15" height="14" viewBox="0 0 15 14" stroke="#e8e8e8" stroke-width="1.4" fill="none" stroke-linecap="round" stroke-linejoin="round"><path d="M14 7H1.5M7 1.2L1.2 7L7 12.8"/></svg>
<svg class="abs" style="left:39px;top:37px" width="15" height="15" viewBox="0 0 15 15" stroke="#e8e8e8" stroke-width="1.4" fill="none" stroke-linecap="round" stroke-linejoin="round"><path d="M13.2 7.5A5.8 5.8 0 1 1 10.8 2.8"/><path d="M9.2 1.2H12.6V4.6"/></svg>
<svg class="abs" style="left:74px;top:38px" width="12" height="13" viewBox="0 0 12 13" stroke="#e8e8e8" stroke-width="1.2" fill="none"><rect x="1" y="5" width="10" height="7" rx="1.6"/><path d="M3.6 5V3.4A2.4 2.4 0 0 1 8.4 3.4V5"/><circle cx="6" cy="8.5" r="0.9" fill="#e8e8e8" stroke="none"/></svg>
<div class="abs" style="left:95.0px;top:38.9px;font-size:12px;line-height:1;font-weight:normal;color:#f2f2f2;white-space:pre;letter-spacing:0.02px;"><span style="color:#d5d5d5">https://</span>prime-basket.com<span style="color:#c8c8c8">/seller/orders/list/all</span></div>
<div class="abs" style="left:1351px;top:36px;color:#9a9a9a;font-size:14px">A<span style="font-size:8px;position:relative;top:-6px;left:-1px">))</span></div>
<svg class="abs" style="left:1377px;top:36px" width="16" height="16" viewBox="0 0 16 16" fill="none" stroke="#a0a0a0" stroke-width="1.2" stroke-linejoin="round"><path d="M8 1.6L9.9 5.7L14.4 6.2L11.1 9.3L12 13.8L8 11.5L4 13.8L4.9 9.3L1.6 6.2L6.1 5.7Z"/></svg>
<svg class="abs" style="left:1414px;top:36px" width="16" height="16" viewBox="0 0 16 16" fill="none" stroke="#e0e0e0" stroke-width="1.2"><path d="M4.6 11.5V2.6H9.6V4.6H4.6"/><circle cx="3.2" cy="11.8" r="1.5"/><circle cx="10" cy="11" r="2.6" fill="#e0e0e0"/><circle cx="10" cy="11" r="0.8" fill="#3a3a3a" stroke="none"/></svg>
<svg class="abs" style="left:1443px;top:36px" width="17" height="16" viewBox="0 0 17 16" fill="none" stroke="#e0e0e0" stroke-width="1.2" stroke-linejoin="round"><path d="M6.5 1.6L8.2 5.6L12.2 6L9.3 8.9L10.2 13.2L6.5 11L2.8 13.2L3.7 8.9L0.8 6L4.8 5.6Z"/><path d="M11.5 7.5H16M11 10H16M11.5 12.5H16"/></svg>
<div class="abs" style="left:1467px;top:32px;width:66px;height:25px;border:1.5px solid #c48e8e;border-radius:13px;background:#2e2a2a"></div>
<div class="abs" style="left:1476.0px;top:39.1px;font-size:11px;line-height:1;font-weight:normal;color:#eaa9a9;white-space:pre;letter-spacing:-0.52px;">Sign in</div>
<div class="abs" style="left:1510px;top:34px;width:21px;height:21px;border-radius:50%;background:#fff;overflow:hidden"><div class="abs" style="left:6.5px;top:3.5px;width:8px;height:8px;border-radius:50%;background:#8a8a8a"></div><div class="abs" style="left:3.5px;top:12.5px;width:14px;height:10px;border-radius:7px 7px 0 0;background:#8a8a8a"></div></div>
<div class="abs" style="left:1543px;top:43px;width:2.6px;height:2.6px;border-radius:50%;background:#f0f0f0;box-shadow:4.5px 0 #f0f0f0,9px 0 #f0f0f0"></div>
<svg class="abs" style="left:1571px;top:35.500px" width="20" height="18" viewBox="0 0 20 18"><defs><linearGradient id="cp1" x1="0" y1="0" x2="0" y2="1"><stop offset="0" stop-color="#1f86f0"/><stop offset=".35" stop-color="#19b4d8"/><stop offset=".65" stop-color="#5fd04a"/><stop offset="1" stop-color="#f0dc18"/></linearGradient><linearGradient id="cp2" x1="0" y1="0" x2="0" y2="1"><stop offset="0" stop-color="#b562f2"/><stop offset=".5" stop-color="#f0508e"/><stop offset="1" stop-color="#ffa040"/></linearGradient></defs><path d="M10.200 4.600H17.400Q19.800 4.600 19.200 7L17 16Q16.600 17.800 14.800 17.800H7.600Q5.400 17.800 6 15.600L8 8Z" fill="url(#cp2)"/><path d="M3.800 0.400H11.200Q13.200 0.400 12.700 2.400L10.200 12.400Q9.800 14 8 14H2Q0 14 0.500 12L2.600 2Q2.900 0.400 3.800 0.400Z" fill="url(#cp1)"/><path d="M12.200 4.600L10.200 12.400Q9.900 13.700 8.800 14L9.400 14Q11 14 11.400 12.400L13.300 4.600Z" fill="#1a1a1a" opacity=".75"/></svg>

<!-- SCROLLBAR -->
<div class="abs" style="left:1583.500px;top:61px;width:15.500px;height:798px;background:#2c2c2c"></div>
<div class="abs" style="left:1586px;top:76.500px;width:7.300px;height:357px;border-radius:4px;background:#a0a0a0"></div>
<div class="abs" style="left:1596.400px;top:61px;width:2.600px;height:798px;background:#3a3a3a"></div>
<svg class="abs" style="left:1586px;top:66px" width="8" height="6" viewBox="0 0 8 6"><path d="M4 0.500L7.500 5.500H0.500Z" fill="#a8a8a8"/></svg>
<svg class="abs" style="left:1585.500px;top:846px" width="8" height="6" viewBox="0 0 8 6"><path d="M4 5.500L7.500 0.500H0.500Z" fill="#a8a8a8"/></svg>
<!-- DEBUGBAR -->
<div class="abs" style="left:0;top:845px;width:12px;height:14px;background:#333"></div>
<div class="abs" style="left:0;top:855.500px;width:1599px;height:3.500px;background:#2d2d2d"></div>
<div class="abs" style="left:3px;top:828px;width:1580.500px;height:27.500px;background:#181b26;border-top:3px solid #ee5765;border-radius:0 0 0 6px"></div>
<svg class="abs" style="left:9px;top:836px" width="17" height="17" viewBox="0 0 17 17" fill="none" stroke="#c23a47" stroke-width="1" stroke-linejoin="round" opacity=".85"><path d="M1 2.600L3.600 1L6.200 2.600V10.600L10.200 8.400V5.200L12.800 3.600L15.600 5.200V8.400L10.200 11.600V14.400L6.200 16.400L1 13.400Z"/><path d="M1 2.600L3.600 4.200V12.200L6.200 13.600L10.200 11.600M3.600 4.200L6.200 2.600M10.200 5.200L12.800 6.800L15.600 5.200M12.800 6.800V10M6.200 13.600V16.400"/></svg><svg class="abs" style="left:44px;top:836px" width="17" height="17" viewBox="0 0 17 17" fill="none" stroke="#c23a47" stroke-width="1" stroke-linejoin="round" opacity=".85"><path d="M1 2.600L3.600 1L6.200 2.600V10.600L10.200 8.400V5.200L12.800 3.600L15.600 5.200V8.400L10.200 11.600V14.400L6.200 16.400L1 13.400Z"/><path d="M1 2.600L3.600 4.200V12.200L6.200 13.600L10.200 11.600M3.600 4.200L6.200 2.600M10.200 5.200L12.800 6.800L15.600 5.200M12.800 6.800V10M6.200 13.600V16.400"/></svg><div class="abs" style="left:77.0px;top:838.4px;font-size:11px;line-height:1;font-weight:bold;color:#e9ecf2;white-space:pre;letter-spacing:-0.25px;">Messages</div><div class="abs pill" style="left:133px;width:17px">1</div><div class="abs" style="left:165.0px;top:838.4px;font-size:11px;line-height:1;font-weight:bold;color:#e9ecf2;white-space:pre;letter-spacing:-0.05px;">Timeline</div><div class="abs" style="left:223.0px;top:838.4px;font-size:11px;line-height:1;font-weight:bold;color:#e9ecf2;white-space:pre;letter-spacing:-0.17px;">Exceptions</div><div class="abs" style="left:294.0px;top:838.4px;font-size:11px;line-height:1;font-weight:bold;color:#e9ecf2;white-space:pre;letter-spacing:-0.08px;">Views</div><div class="abs pill" style="left:329px;width:18.500px">8</div><div class="abs" style="left:361.4px;top:838.4px;font-size:11px;line-height:1;font-weight:bold;color:#e9ecf2;white-space:pre;letter-spacing:0.03px;">Route</div><div class="abs" style="left:406.8px;top:838.4px;font-size:11px;line-height:1;font-weight:bold;color:#e9ecf2;white-space:pre;letter-spacing:-0.20px;">Queries</div><div class="abs pill" style="left:451.300px;width:23.200px">59</div><div class="abs" style="left:488.9px;top:838.4px;font-size:11px;line-height:1;font-weight:bold;color:#e9ecf2;white-space:pre;letter-spacing:-0.20px;">Models</div><div class="abs pill" style="left:529.800px;width:23.200px">47</div><div class="abs" style="left:567.7px;top:838.4px;font-size:11px;line-height:1;font-weight:bold;color:#e9ecf2;white-space:pre;letter-spacing:-0.04px;">Mails</div><div class="abs" style="left:608.6px;top:838.4px;font-size:11px;line-height:1;font-weight:bold;color:#e9ecf2;white-space:pre;letter-spacing:0.38px;">Gate</div><div class="abs" style="left:648.6px;top:838.4px;font-size:11px;line-height:1;font-weight:bold;color:#e9ecf2;white-space:pre;letter-spacing:-0.43px;">Session</div><div class="abs" style="left:702.3px;top:838.4px;font-size:11px;line-height:1;font-weight:bold;color:#e9ecf2;white-space:pre;letter-spacing:-0.13px;">Request</div><div class="abs sep" style="left:69px"></div><div class="abs sep" style="left:157.7px"></div><div class="abs sep" style="left:217.6px"></div><div class="abs sep" style="left:287.5px"></div><div class="abs sep" style="left:354.3px"></div><div class="abs sep" style="left:399.7px"></div><div class="abs sep" style="left:482.3px"></div><div class="abs sep" style="left:560.7px"></div><div class="abs sep" style="left:602px"></div><div class="abs sep" style="left:641.6px"></div><div class="abs sep" style="left:695.3px"></div><div class="abs sep" style="left:1353.8px"></div><div class="abs sep" style="left:1401.4px"></div><div class="abs sep" style="left:1457.4px"></div><div class="abs sep" style="left:1505px"></div><svg class="abs" style="left:1175.400px;top:838.500px" width="11" height="10" viewBox="0 0 11 10" fill="#e9ecf2"><path d="M6.400 0.400L10.800 4.200L6.400 8V5.800Q2.400 5.600 0.400 9.400Q0.600 3.400 6.400 2.600Z"/></svg><div class="abs" style="left:1190.7px;top:838.4px;font-size:11px;line-height:1;font-weight:bold;color:#e9ecf2;white-space:pre;letter-spacing:0.12px;">GET seller/orders/list/{status}</div><svg class="abs" style="left:1359px;top:838px" width="12" height="11" viewBox="0 0 12 11" fill="#e9ecf2"><circle cx="4" cy="5.800" r="3.600"/><circle cx="4" cy="5.800" r="1.400" fill="#181b26"/><circle cx="9.600" cy="2.600" r="2.200"/><circle cx="9.600" cy="2.600" r="0.800" fill="#181b26"/><circle cx="9.600" cy="8.600" r="2.200"/><circle cx="9.600" cy="8.600" r="0.800" fill="#181b26"/></svg><div class="abs" style="left:1374.3px;top:838.4px;font-size:11px;line-height:1;font-weight:bold;color:#e9ecf2;white-space:pre;letter-spacing:-0.31px;">6MB</div><svg class="abs" style="left:1406px;top:838.500px" width="10" height="10" viewBox="0 0 10 10" fill="none" stroke="#e9ecf2" stroke-width="1.400" stroke-linecap="round"><circle cx="5" cy="5" r="4.200"/><path d="M5 2.600V5.200H6.800"/></svg><div class="abs" style="left:1420.2px;top:838.4px;font-size:11px;line-height:1;font-weight:bold;color:#e9ecf2;white-space:pre;letter-spacing:-0.37px;">247ms</div><svg class="abs" style="left:1462.500px;top:840px" width="11" height="8" viewBox="0 0 11 8" fill="none" stroke="#e9ecf2" stroke-width="1.200" stroke-linecap="round" stroke-linejoin="round"><path d="M3 1.200L0.800 4L3 6.800M8 1.200L10.200 4L8 6.800M6.300 0.800L4.700 7.200"/></svg><div class="abs" style="left:1478.2px;top:838.4px;font-size:11px;line-height:1;font-weight:bold;color:#e9ecf2;white-space:pre;letter-spacing:-0.33px;">8.3.6</div><svg class="abs" style="left:1512px;top:838px" width="14" height="11" viewBox="0 0 14 11" fill="#e9ecf2"><path d="M0.400 0.600H4.600L5.800 2H11.400V3.600H2.800L0.400 9.200Z"/><path d="M3.200 4.400H13.800L11.400 10.400H0.800Z"/></svg>
<svg class="abs" style="left:1536px;top:839.500px" width="11" height="7" viewBox="0 0 11 7" fill="none" stroke="#e9ecf2" stroke-width="2" stroke-linecap="round" stroke-linejoin="round"><path d="M1.200 5.800L5.500 1.400L9.800 5.800"/></svg>
<svg class="abs" style="left:1566.500px;top:839px" width="9" height="9" viewBox="0 0 9 9" fill="none" stroke="#e9ecf2" stroke-width="2.200"><path d="M1 1L8 8M8 1L1 8"/></svg>
</div>
</body>
</html>
